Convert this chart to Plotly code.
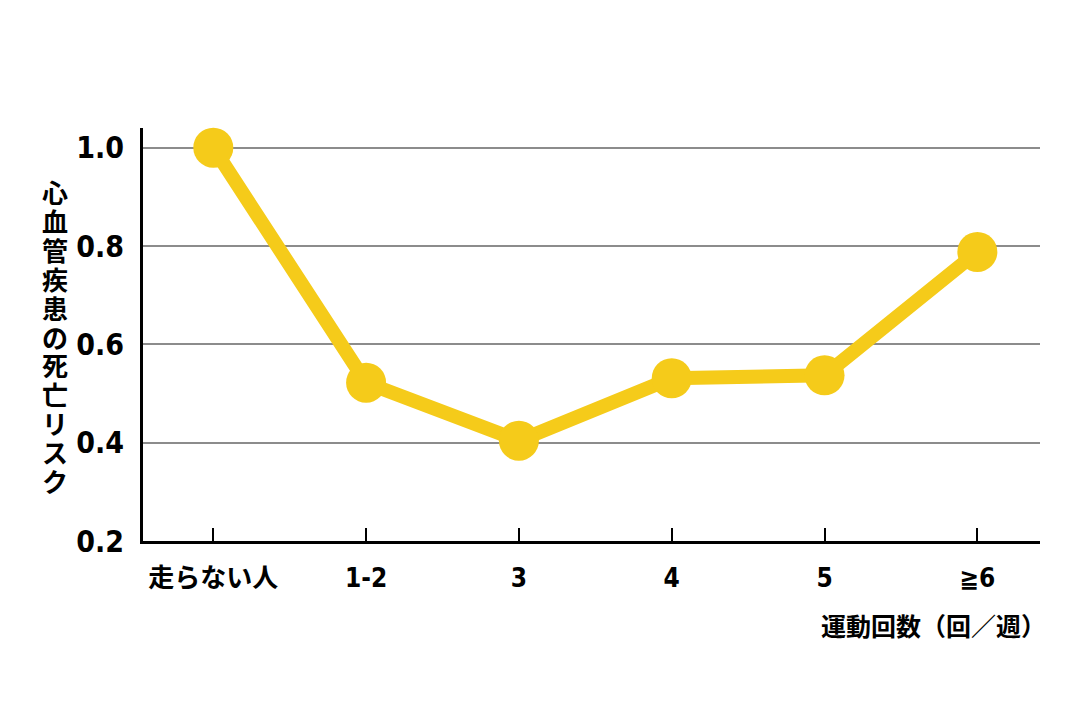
import plotly.graph_objects as go

categories = ["走らない人", "1-2", "3", "4", "5", "≧6"]
risk = [1.0, 0.522, 0.404, 0.531, 0.537, 0.788]
y_ticks = [0.2, 0.4, 0.6, 0.8, 1.0]
y_tick_labels = ["0.2", "0.4", "0.6", "0.8", "1.0"]
y_title = "心血管疾患の死亡リスク"
x_title = "運動回数（回／週）"

YELLOW = "#F5CB1A"
FONT = "DejaVu Sans Condensed, Noto Sans CJK JP, sans-serif"
CJK = "Noto Sans CJK JP"

x_idx = list(range(len(categories)))

fig = go.Figure()
fig.add_trace(go.Scatter(
    x=x_idx, y=risk, mode="lines+markers",
    line=dict(color=YELLOW, width=14),
    marker=dict(color=YELLOW, size=40),
    cliponaxis=False, hoverinfo="skip",
))

fig.update_layout(
    width=1080, height=720,
    margin=dict(l=135, r=48, t=120, b=187),
    plot_bgcolor="white", paper_bgcolor="white",
    showlegend=False,
    font=dict(family=FONT, color="black"),
)
fig.update_xaxes(
    range=[-0.46, 5.41],
    tickmode="array", tickvals=x_idx, ticktext=[f"<b>{c}</b>" for c in categories],
    tickfont=dict(size=26, family=FONT, color="black"),
    showline=True, linecolor="black", linewidth=3,
    ticks="inside", ticklen=13, tickwidth=1.5, tickcolor="black",
    ticklabelstandoff=12,
    showgrid=False, zeroline=False,
)
fig.update_yaxes(
    range=[0.2, 1.04],
    tickmode="array", tickvals=y_ticks, ticktext=[f"<b>{t}</b>" for t in y_tick_labels],
    tickfont=dict(size=30, family=FONT, color="black"),
    showline=True, linecolor="black", linewidth=3,
    ticks="", ticklabelstandoff=10,
    showgrid=True, gridcolor="#8c8c8c", gridwidth=2,
    zeroline=False,
)

# vertical y-axis title, one character per annotation
n = len(y_title)
top_px, bottom_px = 192, 480
pitch = (bottom_px - top_px) / (n - 1)
for i, ch in enumerate(y_title):
    ypx = top_px + pitch * i
    fig.add_annotation(
        text=f"<b>{ch}</b>",
        xref="paper", yref="paper",
        x=(55 - 143) / 897, y=(541 - ypx) / 413,
        xanchor="center", yanchor="middle", showarrow=False,
        height=31, borderpad=0,
        font=dict(size=26, family=CJK, color="black"),
    )

fig.add_annotation(
    text=f"<b>{x_title}</b>",
    xref="paper", yref="paper", x=(1048 - 143) / 897, y=(541 - 625) / 413,
    xanchor="right", yanchor="middle", showarrow=False,
    font=dict(size=25, family=CJK, color="black"),
)

fig.write_html("out.html")
